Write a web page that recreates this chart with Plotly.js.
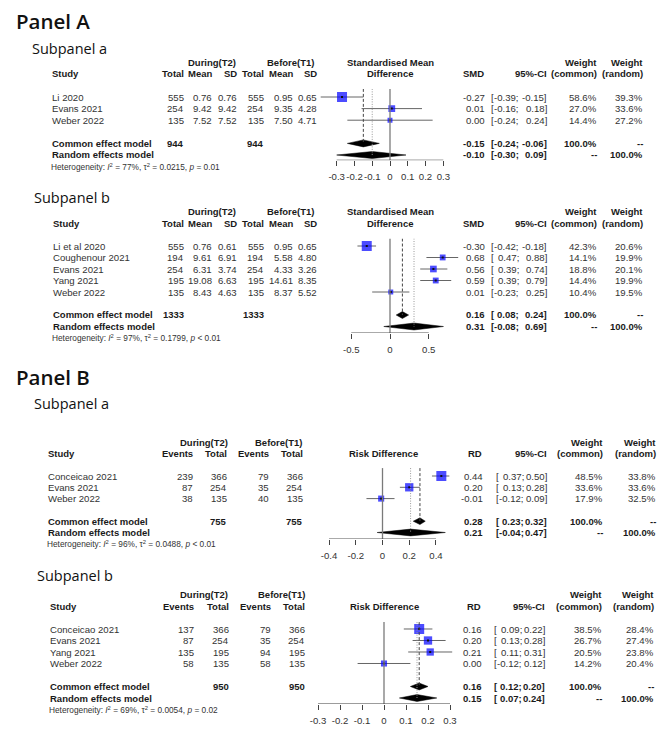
<!DOCTYPE html>
<html><head><meta charset="utf-8">
<script src="https://cdn.plot.ly/plotly-3.0.1.min.js"></script>
<style>html,body{margin:0;padding:0;background:#fff}#chart{width:666px;height:739px}</style>
</head><body><div id="chart"></div>
<script>
// ---------- Panel A, subpanel a (Standardised Mean Difference) ----------
const aaStudy = ["Li 2020","Evans 2021","Weber 2022"];
const aaTotalT2 = [555,254,135];
const aaMeanT2 = [0.76,9.42,7.52];
const aaSDT2 = [0.76,9.42,7.52];
const aaTotalT1 = [555,254,135];
const aaMeanT1 = [0.95,9.35,7.50];
const aaSDT1 = [0.65,4.28,4.71];
const aaEst = [-0.27,0.01,0.00];
const aaLo = [-0.39,-0.16,-0.24];
const aaHi = [-0.15,0.18,0.24];
const aaWCommon = [58.6,27.0,14.4];
const aaWRandom = [39.3,33.6,27.2];
const aaCommon = [-0.15,-0.24,-0.06];
const aaRandom = [-0.10,-0.30,0.09];
const aaTotals = [944,944];
const aaHet = ["77%","0.0215","= 0.01"];
const aaTicks = [-0.3,-0.2,-0.1,0,0.1,0.2,0.3];
const aaTickLabels = ["-0.3","-0.2","-0.1","0","0.1","0.2","0.3"];

// ---------- Panel A, subpanel b ----------
const abStudy = ["Li et al 2020","Coughenour 2021","Evans 2021","Yang 2021","Weber 2022"];
const abTotalT2 = [555,194,254,195,135];
const abMeanT2 = [0.76,9.61,6.31,19.08,8.43];
const abSDT2 = [0.61,6.91,3.74,6.63,4.63];
const abTotalT1 = [555,194,254,195,135];
const abMeanT1 = [0.95,5.58,4.33,14.61,8.37];
const abSDT1 = [0.65,4.80,3.26,8.35,5.52];
const abEst = [-0.30,0.68,0.56,0.59,0.01];
const abLo = [-0.42,0.47,0.39,0.39,-0.23];
const abHi = [-0.18,0.88,0.74,0.79,0.25];
const abWCommon = [42.3,14.1,18.8,14.4,10.4];
const abWRandom = [20.6,19.9,20.1,19.9,19.5];
const abCommon = [0.16,0.08,0.24];
const abRandom = [0.31,-0.08,0.69];
const abTotals = [1333,1333];
const abHet = ["97%","0.1799","< 0.01"];
const abTicks = [-0.5,0,0.5];
const abTickLabels = ["-0.5","0","0.5"];

// ---------- Panel B, subpanel a (Risk Difference) ----------
const baStudy = ["Conceicao 2021","Evans 2021","Weber 2022"];
const baEventsT2 = [239,87,38];
const baTotalT2 = [366,254,135];
const baEventsT1 = [79,35,40];
const baTotalT1 = [366,254,135];
const baEst = [0.44,0.20,-0.01];
const baLo = [0.37,0.13,-0.12];
const baHi = [0.50,0.28,0.09];
const baWCommon = [48.5,33.6,17.9];
const baWRandom = [33.8,33.6,32.5];
const baCommon = [0.28,0.23,0.32];
const baRandom = [0.21,-0.04,0.47];
const baTotals = [755,755];
const baHet = ["96%","0.0488","< 0.01"];
const baTicks = [-0.4,-0.2,0,0.2,0.4];
const baTickLabels = ["-0.4","-0.2","0","0.2","0.4"];

// ---------- Panel B, subpanel b ----------
const bbStudy = ["Conceicao 2021","Evans 2021","Yang 2021","Weber 2022"];
const bbEventsT2 = [137,87,135,58];
const bbTotalT2 = [366,254,195,135];
const bbEventsT1 = [79,35,94,58];
const bbTotalT1 = [366,254,195,135];
const bbEst = [0.16,0.20,0.21,0.00];
const bbLo = [0.09,0.13,0.11,-0.12];
const bbHi = [0.22,0.28,0.31,0.12];
const bbWCommon = [38.5,26.7,20.5,14.2];
const bbWRandom = [28.4,27.4,23.8,20.4];
const bbCommon = [0.16,0.12,0.20];
const bbRandom = [0.15,0.07,0.24];
const bbTotals = [950,950];
const bbHet = ["69%","0.0054","= 0.02"];
const bbTicks = [-0.3,-0.2,-0.1,0,0.1,0.2,0.3];
const bbTickLabels = ["-0.3","-0.2","-0.1","0","0.1","0.2","0.3"];

// ---------- layout helpers ----------
const W = 666, H = 739;
const FONT = "Liberation Sans, Arial, sans-serif";
const TFONT = "Open Sans, Noto Sans, sans-serif";
const FS = 9.6, FSB = 9.5;
const ann = [], shapes = [], traces = [];
const layout = {width:W, height:H, margin:{l:0,r:0,t:0,b:0}, showlegend:false,
  paper_bgcolor:'#fff', plot_bgcolor:'rgba(0,0,0,0)'};

function T(xp, yp, text, xanchor, size, color, fam){
  ann.push({xref:'paper', yref:'paper', x:xp/W, y:1-yp/H, text:text, showarrow:false,
    xanchor:xanchor, yanchor:'middle', borderpad:0, borderwidth:0,
    font:{family:fam||FONT, size:size||FS, color:color||'#333'}});
}
const TB = (xp, yp, text, xanchor) => T(xp, yp, "<b>"+text+"</b>", xanchor, FSB, '#1a1a1a');

const A_HEAD = ["Total","Mean","SD","Total","Mean","SD"];
const B_HEAD = ["Events","Total","Events","Total"];

const panels = [
  {row0:97, sp:11.6, axisIdx:5.45, topIdx:-0.7, zeroPx:390, ppu:177.7, xPx:[300,482],
   study:aaStudy, cols:[aaTotalT2,aaMeanT2,aaSDT2,aaTotalT1,aaMeanT1,aaSDT1], dec:[0,2,2,0,2,2],
   head:A_HEAD, colX:[184,212,237,264,293,317], totCols:[0,3], totals:aaTotals, groupX:[212,291],
   est:aaEst, lo:aaLo, hi:aaHi, wc:aaWCommon, wr:aaWRandom, pc:aaCommon, pr:aaRandom, het:aaHet,
   ticks:aaTicks, tickText:aaTickLabels, studyX:52, measure:"SMD", plotHead:["Standardised Mean","Difference"],
   plotHeadX:390, effX:485, brX:491, semiX:519, ciX:547, wcX:597, wrX:643},
  {row0:246, sp:11.5, axisIdx:7.57, topIdx:-0.65, zeroPx:390, ppu:77.5, xPx:[320,478],
   study:abStudy, cols:[abTotalT2,abMeanT2,abSDT2,abTotalT1,abMeanT1,abSDT1], dec:[0,2,2,0,2,2],
   head:A_HEAD, colX:[184,212,237,264,293,317], totCols:[0,3], totals:abTotals, groupX:[212,291],
   est:abEst, lo:abLo, hi:abHi, wc:abWCommon, wr:abWRandom, pc:abCommon, pr:abRandom, het:abHet,
   ticks:abTicks, tickText:abTickLabels, studyX:53, measure:"SMD", plotHead:["Standardised Mean","Difference"],
   plotHeadX:390, effX:485, brX:491, semiX:519, ciX:547, wcX:597, wrX:643},
  {row0:476, sp:11.3, axisIdx:5.58, topIdx:-0.7, zeroPx:382.5, ppu:133.7, xPx:[315,470],
   study:baStudy, cols:[baEventsT2,baTotalT2,baEventsT1,baTotalT1], dec:[0,0,0,0],
   head:B_HEAD, colX:[193,227,269,303], totCols:[1,3], totals:baTotals, groupX:[203.5,279],
   est:baEst, lo:baLo, hi:baHi, wc:baWCommon, wr:baWRandom, pc:baCommon, pr:baRandom, het:baHet,
   ticks:baTicks, tickText:baTickLabels, studyX:48, measure:"RD", plotHead:[null,"Risk Difference"],
   plotHeadX:383, effX:483, brX:496, semiX:523.5, ciX:547, wcX:603, wrX:656},
  {row0:629, sp:11.5, axisIdx:6.52, topIdx:-0.6, zeroPx:384, ppu:220, xPx:[305,470],
   study:bbStudy, cols:[bbEventsT2,bbTotalT2,bbEventsT1,bbTotalT1], dec:[0,0,0,0],
   head:B_HEAD, colX:[194,229,271,305], totCols:[1,3], totals:bbTotals, groupX:[204,282],
   est:bbEst, lo:bbLo, hi:bbHi, wc:bbWCommon, wr:bbWRandom, pc:bbCommon, pr:bbRandom, het:bbHet,
   ticks:bbTicks, tickText:bbTickLabels, studyX:50, measure:"RD", plotHead:[null,"Risk Difference"],
   plotHeadX:384, effX:482, brX:493.5, semiX:521.5, ciX:545, wcX:602, wrX:654}
];

const MAXBOX = 10, DH = 0.3;

panels.forEach((P, k) => {
  const n = P.study.length;
  const sfx = k === 0 ? "" : String(k+1);
  const xa = "x"+sfx, ya = "y"+sfx;
  const rowPx = idx => P.row0 + idx*P.sp;
  const iCommon = n+1, iRandom = n+2, iHet = n+3;

  // axes
  layout["xaxis"+sfx] = {domain:[P.xPx[0]/W, P.xPx[1]/W], anchor:ya,
    range:[(P.xPx[0]-P.zeroPx)/P.ppu, (P.xPx[1]-P.zeroPx)/P.ppu],
    tickmode:'array', tickvals:P.ticks, ticktext:P.tickText, ticks:'outside', ticklen:5,
    tickwidth:1, tickcolor:'#444', tickangle:0, ticklabelstandoff:2,
    tickfont:{family:FONT, size:FS, color:'#333'},
    showline:false, showgrid:false, zeroline:false, fixedrange:true};
  layout["yaxis"+sfx] = {domain:[1-rowPx(P.axisIdx)/H, 1-rowPx(P.topIdx)/H], anchor:xa,
    range:[P.axisIdx, P.topIdx], showticklabels:false, ticks:'', showline:false,
    showgrid:false, zeroline:false, fixedrange:true};

  // reference lines
  shapes.push({type:'line', xref:xa, yref:ya, x0:0, x1:0, y0:P.topIdx, y1:P.axisIdx,
    line:{color:'#7a7a7a', width:1.3}});
  shapes.push({type:'line', xref:xa, yref:ya, x0:P.pc[0], x1:P.pc[0], y0:P.topIdx, y1:iCommon,
    line:{color:'#444', width:1, dash:'3px,2px'}});
  shapes.push({type:'line', xref:xa, yref:ya, x0:P.pr[0], x1:P.pr[0], y0:P.topIdx, y1:iRandom,
    line:{color:'#999', width:1, dash:'1px,1.5px'}});
  shapes.push({type:'line', xref:xa, yref:ya, x0:P.ticks[0], x1:P.ticks[P.ticks.length-1],
    y0:P.axisIdx, y1:P.axisIdx, line:{color:'#444', width:1}});

  // CI lines
  const cx = [], cy = [];
  P.est.forEach((e,i) => { cx.push(P.lo[i], P.hi[i], null); cy.push(i, i, null); });
  traces.push({type:'scatter', mode:'lines', x:cx, y:cy, xaxis:xa, yaxis:ya,
    line:{color:'#666', width:1}, hoverinfo:'skip'});
  // boxes sized by common-effect weight
  const wmax = Math.max(...P.wc);
  traces.push({type:'scatter', mode:'markers', x:P.est, y:P.est.map((e,i)=>i), xaxis:xa, yaxis:ya,
    marker:{symbol:'square', color:'#0000FF', size:P.wc.map(w=>MAXBOX*Math.sqrt(w/wmax)), line:{width:0}},
    hoverinfo:'skip'});
  traces.push({type:'scatter', mode:'markers', x:P.est, y:P.est.map((e,i)=>i), xaxis:xa, yaxis:ya,
    marker:{symbol:'square', color:'#111', size:2, line:{width:0}}, hoverinfo:'skip'});
  // pooled diamonds
  [[P.pc, iCommon],[P.pr, iRandom]].forEach(([d, r]) => {
    traces.push({type:'scatter', mode:'lines', x:[d[1], d[0], d[2], d[0], d[1]],
      y:[r, r-DH, r, r+DH, r], fill:'toself', fillcolor:'#000', line:{color:'#000', width:0.5},
      xaxis:xa, yaxis:ya, hoverinfo:'skip'});
  });

  // ---- table text ----
  TB(P.groupX[0], rowPx(-3), "During(T2)", 'center');
  TB(P.groupX[1], rowPx(-3), "Before(T1)", 'center');
  TB(P.studyX, rowPx(-2), "Study", 'left');
  P.head.forEach((h,j) => TB(P.colX[j], rowPx(-2), h, 'right'));
  if (P.plotHead[0]) TB(P.plotHeadX, rowPx(-3), P.plotHead[0], 'center');
  TB(P.plotHeadX, rowPx(-2), P.plotHead[1], 'center');
  TB(P.effX-1, rowPx(-2), P.measure, 'right');
  TB(P.ciX, rowPx(-2), "95%-CI", 'right');
  TB(P.wcX, rowPx(-3), "Weight", 'right');
  TB(P.wcX, rowPx(-2), "(common)", 'right');
  TB(P.wrX, rowPx(-3), "Weight", 'right');
  TB(P.wrX, rowPx(-2), "(random)", 'right');

  const ci = (r, lo, hi, bold) => {
    const f = bold ? TB : ((x,y,t,a) => T(x,y,t,a));
    f(P.brX, rowPx(r), "[", 'left');
    f(P.semiX, rowPx(r), lo.toFixed(2)+";", 'right');
    f(P.ciX, rowPx(r), hi.toFixed(2)+"]", 'right');
  };

  P.study.forEach((s,i) => {
    T(P.studyX, rowPx(i), s, 'left');
    P.cols.forEach((c,j) => T(P.colX[j], rowPx(i), c[i].toFixed(P.dec[j]), 'right'));
    T(P.effX, rowPx(i), P.est[i].toFixed(2), 'right');
    ci(i, P.lo[i], P.hi[i], false);
    T(P.wcX, rowPx(i), P.wc[i].toFixed(1)+"%", 'right');
    T(P.wrX, rowPx(i), P.wr[i].toFixed(1)+"%", 'right');
  });

  TB(P.studyX, rowPx(iCommon), "Common effect model", 'left');
  P.totCols.forEach((c,j) => TB(P.colX[c], rowPx(iCommon), String(P.totals[j]), 'right'));
  TB(P.effX, rowPx(iCommon), P.pc[0].toFixed(2), 'right');
  ci(iCommon, P.pc[1], P.pc[2], true);
  TB(P.wcX, rowPx(iCommon), "100.0%", 'right');
  TB(P.wrX, rowPx(iCommon), "--", 'right');

  TB(P.studyX, rowPx(iRandom), "Random effects model", 'left');
  TB(P.effX, rowPx(iRandom), P.pr[0].toFixed(2), 'right');
  ci(iRandom, P.pr[1], P.pr[2], true);
  TB(P.wcX, rowPx(iRandom), "--", 'right');
  TB(P.wrX, rowPx(iRandom), "100.0%", 'right');

  T(P.studyX-1, rowPx(iHet), "Heterogeneity: <i>I</i><sup>2</sup> = " + P.het[0] +
    ", τ<sup>2</sup> = " + P.het[1] + ", <i>p</i> " + P.het[2], 'left', 8.3, '#333');
});

// titles
function title(xp, yp, text, size, weight){
  ann.push({xref:'paper', yref:'paper', x:xp/W, y:1-yp/H, text:text, showarrow:false,
    xanchor:'left', yanchor:'middle', borderpad:0, borderwidth:0,
    font:{family:TFONT, size:size, color:'#111', weight:weight}});
}
title(16, 21, "Panel A", 20.5, 600);
title(32, 48, "Subpanel a", 14.5, 500);
title(34, 197, "Subpanel b", 14.5, 500);
title(16, 377, "Panel B", 20.5, 600);
title(34, 403, "Subpanel a", 14.5, 500);
title(37, 575, "Subpanel b", 14.5, 500);

layout.annotations = ann;
layout.shapes = shapes;
Plotly.newPlot('chart', traces, layout, {staticPlot:true, displayModeBar:false});
</script></body></html>
